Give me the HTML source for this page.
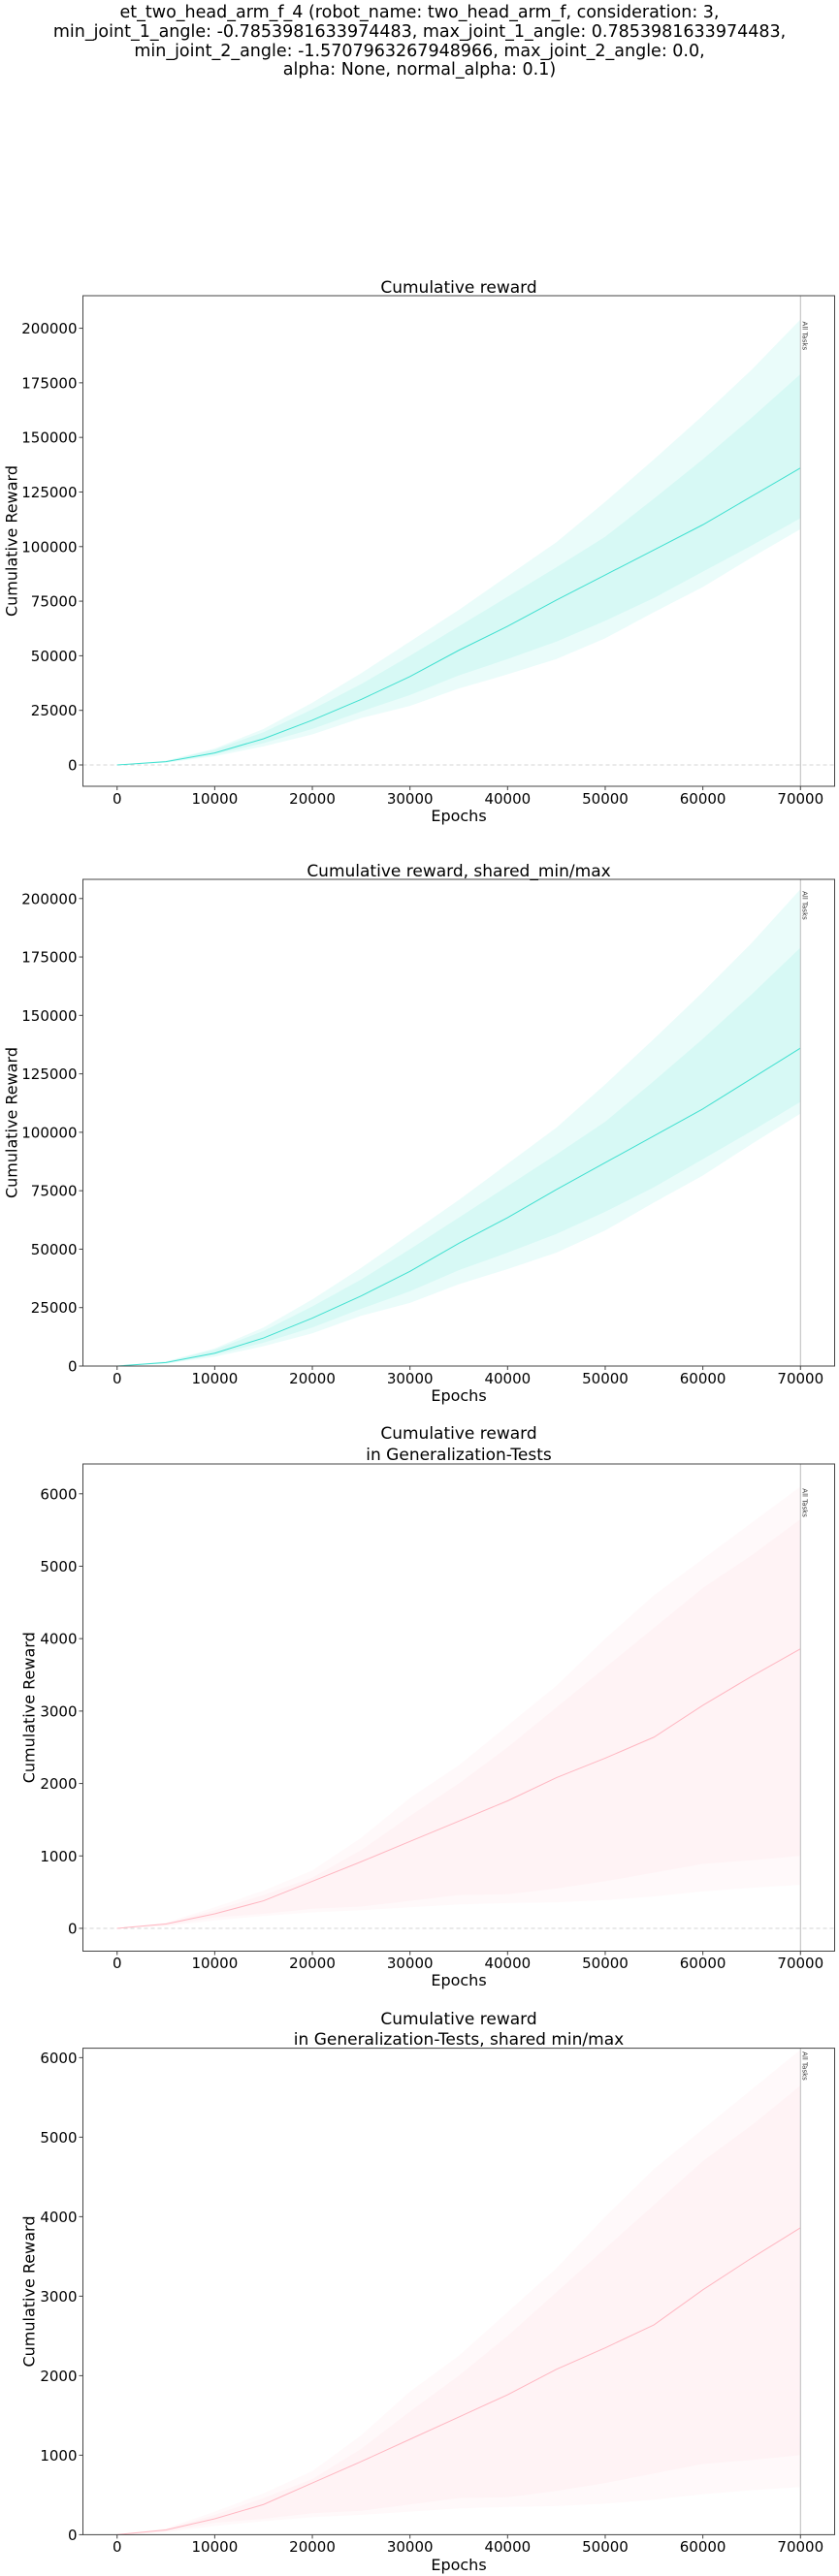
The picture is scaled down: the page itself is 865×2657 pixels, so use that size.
<!DOCTYPE html>
<html><head><meta charset="utf-8">
<style>
html,body{margin:0;padding:0;background:#fff;}
body{width:865px;height:2657px;position:relative;overflow:hidden;font-family:"DejaVu Sans","Liberation Sans",sans-serif;}
#sup{position:absolute;left:0;width:865px;top:4px;text-align:center;font-size:17.5px;line-height:19.8px;color:#000;}
svg{position:absolute;left:0;top:0;}
</style></head>
<body>
<div id="sup">et_two_head_arm_f_4 (robot_name: two_head_arm_f, consideration: 3,<br>min_joint_1_angle: -0.7853981633974483, max_joint_1_angle: 0.7853981633974483,<br>min_joint_2_angle: -1.5707963267948966, max_joint_2_angle: 0.0,<br>alpha: None, normal_alpha: 0.1)</div>
<svg id="fig" width="865" height="2657" xmlns="http://www.w3.org/2000/svg"></svg>
<script>
const epochs = [0,5000,10000,15000,20000,25000,30000,35000,40000,45000,50000,55000,60000,65000,70000];
const trainMean = [0,1500,5500,12000,20500,30000,40500,52500,63500,75500,87000,98500,110000,123000,136000];
const trainOuterUpper = [0,2000,7500,16500,28500,42000,56500,71000,86500,102000,120500,140000,160000,181000,204000];
const trainInnerUpper = [0,1800,7000,15000,25500,37000,50000,63500,77000,90500,104500,122000,140000,159000,179000];
const trainInnerLower = [0,1200,4800,10000,16500,24500,32000,41000,48500,56500,66000,76500,88500,100500,113000];
const trainOuterLower = [0,1000,4000,8500,14000,21500,27000,35000,41500,48500,58000,70000,81500,95000,108000];
const genMean = [0,60,200,380,650,920,1200,1480,1760,2080,2350,2640,3080,3480,3860];
const genOuterUpper = [0,80,290,520,800,1250,1800,2250,2800,3350,4000,4600,5100,5600,6100];
const genInnerUpper = [0,70,250,460,700,1080,1550,2000,2500,3050,3600,4150,4700,5150,5650];
const genInnerLower = [0,40,150,200,270,300,380,460,470,550,650,770,890,940,1000];
const genOuterLower = [0,30,110,170,220,250,290,330,350,360,390,440,510,560,600];
const xTicks = [0,10000,20000,30000,40000,50000,60000,70000];
const trainYTicks = [0,25000,50000,75000,100000,125000,150000,175000,200000];
const genYTicks = [0,1000,2000,3000,4000,5000,6000];

const NS = "http://www.w3.org/2000/svg";
const fig = document.getElementById('fig');
function mk(tag, attrs, parent){const e=document.createElementNS(NS,tag);for(const k in attrs)e.setAttribute(k,attrs[k]);(parent||fig).appendChild(e);return e;}

const charts = [
 {name:'train',top:305,bottom:811,ymin:-9770,ymax:214900,titles:['Cumulative reward'],titleY:[302],mean:trainMean,ou:trainOuterUpper,iu:trainInnerUpper,il:trainInnerLower,ol:trainOuterLower,yt:trainYTicks,color:'#40e0d0',fill:'rgba(64,224,208,0.11)',dash:true,xl:823,ep:841,ylx:12},
 {name:'train-shared',top:907,bottom:1409,ymin:0,ymax:208200,titles:['Cumulative reward, shared_min/max'],titleY:[904],mean:trainMean,ou:trainOuterUpper,iu:trainInnerUpper,il:trainInnerLower,ol:trainOuterLower,yt:trainYTicks,color:'#40e0d0',fill:'rgba(64,224,208,0.11)',dash:false,xl:1421,ep:1439,ylx:12},
 {name:'gen',top:1510,bottom:2012.5,ymin:-315,ymax:6412,titles:['Cumulative reward','in Generalization-Tests'],titleY:[1484,1506],mean:genMean,ou:genOuterUpper,iu:genInnerUpper,il:genInnerLower,ol:genOuterLower,yt:genYTicks,color:'#ffb6c1',fill:'rgba(255,182,193,0.08)',dash:true,xl:2024,ep:2042,ylx:30},
 {name:'gen-shared',top:2112.6,bottom:2614.4,ymin:0,ymax:6119,titles:['Cumulative reward','in Generalization-Tests, shared min/max'],titleY:[2088,2109],mean:genMean,ou:genOuterUpper,iu:genInnerUpper,il:genInnerLower,ol:genOuterLower,yt:genYTicks,color:'#ffb6c1',fill:'rgba(255,182,193,0.08)',dash:false,xl:2626,ep:2645,ylx:30}
];
const L=85.5,R=860.5,XMIN=-3500,XMAX=73500;
const xs = v => L+(v-XMIN)/(XMAX-XMIN)*(R-L);

charts.forEach(c=>{
  const ys = v => c.bottom-(v-c.ymin)/(c.ymax-c.ymin)*(c.bottom-c.top);
  const g = mk('g',{});
  
  
  function band(up,lo,nm){
    let d='M'+epochs.map((e,i)=>xs(e)+','+ys(up[i])).join('L');
    d+='L'+epochs.map((e,i)=>[e,i]).reverse().map(([e,i])=>xs(e)+','+ys(lo[i])).join('L')+'Z';
    const p=mk('path',{d:d,fill:c.fill,stroke:'none'},g);
    
    
  }
  band(c.ou,c.ol,'minmax-band');
  band(c.iu,c.il,'std-band');
  if(c.dash){
    const dl=mk('line',{x1:L,x2:R,y1:ys(0),y2:ys(0),stroke:'#c8c8c8','stroke-width':0.8,'stroke-dasharray':'4,3'},g);
    
    
  }
  const ml=mk('polyline',{points:epochs.map((e,i)=>xs(e)+','+ys(c.mean[i])).join(' '),fill:'none',stroke:c.color,'stroke-width':1},g);
  
  
  const vl=mk('line',{x1:xs(70000),x2:xs(70000),y1:c.top,y2:c.bottom,stroke:'#bbb','stroke-width':1},g);
  
  
  const tx=xs(70000)+2, ty=ys(c.ou[c.ou.length-1])+2;
  const at=mk('text',{x:tx,y:ty,'font-size':7,fill:'#333',transform:'rotate(90 '+tx+' '+ty+')'},g);
  at.textContent='All Tasks';
  
  
  const fr=mk('rect',{x:L,y:c.top,width:R-L,height:c.bottom-c.top,fill:'none',stroke:'#444','stroke-width':1},g);
  
  
  xTicks.forEach(t=>{
    mk('line',{x1:xs(t),x2:xs(t),y1:c.bottom,y2:c.bottom+4,stroke:'#444'},g);
    const tl=mk('text',{x:xs(t),y:c.xl+6,'font-size':15,'text-anchor':'middle',fill:'#000'},g);
    tl.textContent=t;
    
    
  });
  c.yt.forEach(t=>{
    const y=ys(t);
    mk('line',{x1:L-4,x2:L,y1:y,y2:y,stroke:'#444'},g);
    const tl=mk('text',{x:L-6,y:y+5.5,'font-size':15,'text-anchor':'end',fill:'#000'},g);
    tl.textContent=t;
    
    
  });
  c.titles.forEach((t,i)=>{
    const tt=mk('text',{x:(L+R)/2,y:c.titleY[i],'font-size':17,'text-anchor':'middle',fill:'#000'},g);
    tt.textContent=t;
    
    
  });
  const xe=mk('text',{x:(L+R)/2,y:c.ep+6,'font-size':16,'text-anchor':'middle',fill:'#000'},g);
  xe.textContent='Epochs';
  
  
  const cy=(c.top+c.bottom)/2;
  const ya=mk('text',{x:c.ylx,y:cy,'font-size':16,'text-anchor':'middle',fill:'#000',transform:'rotate(-90 '+c.ylx+' '+cy+')',dy:'0.35em'},g);
  ya.textContent='Cumulative Reward';
  
  
});
</script>
</body></html>
